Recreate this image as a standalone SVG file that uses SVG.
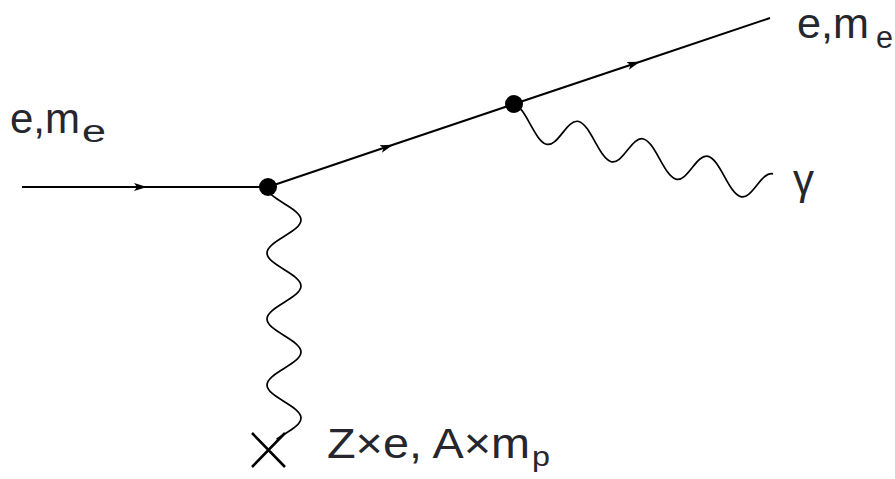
<svg xmlns="http://www.w3.org/2000/svg" width="895" height="479" viewBox="0 0 895 479">
  <style>
    .fermion { fill: none; stroke: #000; stroke-width: 2; marker-mid: url(#arrow); }
    .photon { fill: none; stroke: #000; stroke-width: 1.7; }
    .vertex { fill: #000; }
    .cross { stroke: #000; stroke-width: 2.6; fill: none; }
    .label { font-family: "Liberation Sans", Arial, sans-serif; fill: #26262e; }
  </style>
  <defs>
    <marker id="arrow" markerUnits="userSpaceOnUse" viewBox="0 -5 14 10" refX="13" refY="0" markerWidth="14" markerHeight="10" orient="auto">
      <path d="M0,-4 L13,0 L0,4 L3,0 Z" fill="#000"/>
    </marker>
  </defs>

  <g id="connectors">
    <path class="fermion" d="M22,187 L147,187 L268,187"/>
    <path class="fermion" d="M268,187 L393,144.8 L514,104"/>
    <path class="fermion" d="M514,104 L640,61.7 L770,18"/>
    <g transform="translate(514,104) skewY(15.1)">
      <path class="photon" vector-effect="non-scaling-stroke" d="M0,0
        c 5.858,0 10.908,7.681 16.19,15.75 c 5.279,8.069 10.329,15.75 16.19,15.75 c 5.858,0 10.908,-7.681 16.19,-15.75 c 5.279,-8.069 10.329,-15.75 16.19,-15.75
        c 5.858,0 10.908,7.681 16.19,15.75 c 5.279,8.069 10.329,15.75 16.19,15.75 c 5.858,0 10.908,-7.681 16.19,-15.75 c 5.279,-8.069 10.329,-15.75 16.19,-15.75
        c 5.858,0 10.908,7.681 16.19,15.75 c 5.279,8.069 10.329,15.75 16.19,15.75 c 5.858,0 10.908,-7.681 16.19,-15.75 c 5.279,-8.069 10.329,-15.75 16.19,-15.75
        c 5.858,0 10.908,7.681 16.19,15.75 c 5.279,8.069 10.329,15.75 16.19,15.75 c 5.858,0 10.908,-7.681 16.19,-15.75 c 5.279,-8.069 10.329,-15.75 16.19,-15.75"/>
    </g>
    <path class="photon" d="M267,187
      c 0,5.972 8.291,11.119 17,16.5 c 8.709,5.381 17,10.528 17,16.5 c 0,5.972 -8.291,11.119 -17,16.5 c -8.709,5.381 -17,10.528 -17,16.5
      c 0,5.972 8.291,11.119 17,16.5 c 8.709,5.381 17,10.528 17,16.5 c 0,5.972 -8.291,11.119 -17,16.5 c -8.709,5.381 -17,10.528 -17,16.5
      c 0,5.972 8.291,11.119 17,16.5 c 8.709,5.381 17,10.528 17,16.5 c 0,5.972 -8.291,11.119 -17,16.5 c -8.709,5.381 -17,10.528 -17,16.5
      c 0,5.972 8.291,11.119 17,16.5 c 8.709,5.381 17,10.528 17,16.5 c 0,5.972 -8.291,11.119 -17,16.5
      c -2.6,1.6 -5.2,3.2 -7.5,4.6"/>
  </g>

  <g id="vertex1"><circle class="vertex" cx="268" cy="187" r="9"/></g>
  <g id="vertex2"><circle class="vertex" cx="514" cy="104" r="9"/></g>
  <g id="nucleus">
    <path class="cross" d="M252,433 L285,467 M285,433 L252,467"/>
  </g>

  <g id="label-incoming">
    <text class="label" x="10" y="133" font-size="42" textLength="70" lengthAdjust="spacingAndGlyphs">e,m</text>
    <text class="label" x="82" y="142" font-size="31" textLength="24" lengthAdjust="spacingAndGlyphs">e</text>
  </g>
  <g id="label-outgoing">
    <text class="label" x="797" y="38" font-size="42" textLength="72" lengthAdjust="spacingAndGlyphs">e,m</text>
    <text class="label" x="876" y="48" font-size="31" textLength="17" lengthAdjust="spacingAndGlyphs">e</text>
  </g>
  <g id="label-photon">
    <text class="label" x="793" y="194" font-size="42">γ</text>
  </g>
  <g id="label-nucleus">
    <text class="label" x="327" y="458" font-size="43" textLength="203" lengthAdjust="spacingAndGlyphs">Z×e, A×m</text>
    <text class="label" x="532" y="466" font-size="27" textLength="18" lengthAdjust="spacingAndGlyphs">p</text>
  </g>
</svg>
